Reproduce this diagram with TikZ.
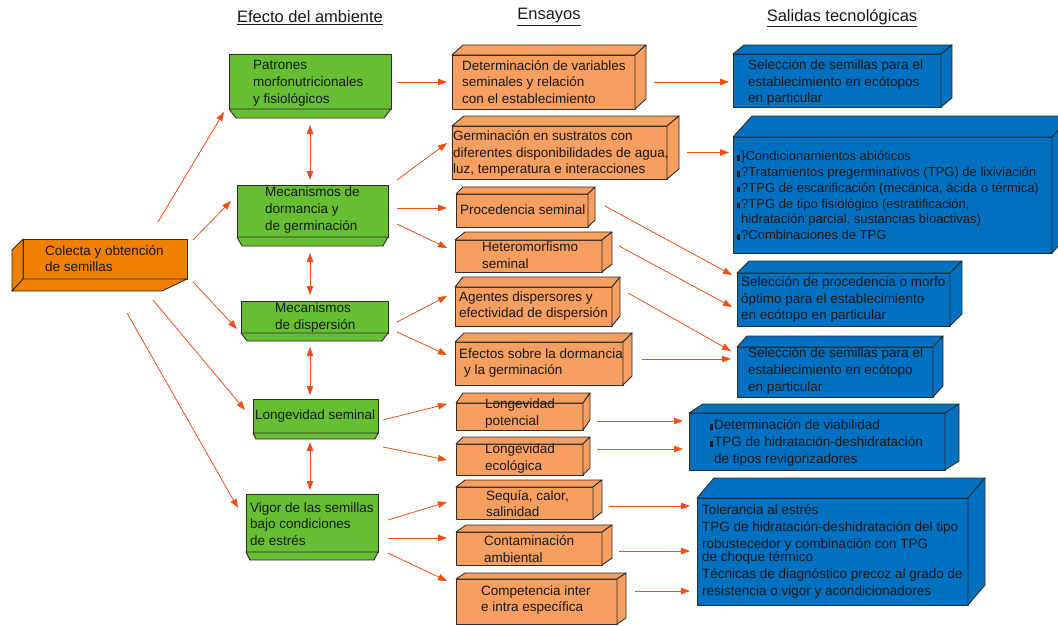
\documentclass[tikz,border=0pt]{standalone}
\usepackage{fontspec}
\setmainfont{Liberation Sans}
\usetikzlibrary{arrows.meta,calc}
\definecolor{grn}{RGB}{102,190,50}
\definecolor{orgdark}{RGB}{240,128,0}
\definecolor{orgl}{RGB}{247,158,97}
\definecolor{blu}{RGB}{0,112,192}
\definecolor{arrc}{RGB}{240,78,20}
\definecolor{edgec}{RGB}{45,45,45}
\definecolor{txtc}{RGB}{25,25,25}
\tikzset{
  arr/.style={draw=arrc, line width=0.8pt, -{Triangle[length=9pt,width=6.5pt]}},
  darr/.style={draw=arrc, line width=0.8pt, {Triangle[length=9pt,width=6.5pt]}-{Triangle[length=9pt,width=6.5pt]}},
  face/.style={draw=edgec, line width=0.9pt, line join=round},
  boxnode/.style={face, anchor=north west, inner sep=0pt, outer sep=0pt},
  lbl/.style={anchor=west, align=left, inner sep=0pt, font=\fontsize{13.5}{16.8}\selectfont, text=txtc},
  hdr/.style={inner sep=0pt, font=\fontsize{16.5}{19}\selectfont, text=txtc},
}
\newcommand\mk{\llap{\rule{2.5pt}{5.5pt}\hspace{1.5pt}}}
% 3D box with top and right faces: name, fill, x1, y1, x2, y2, dx, dy
\newcommand\cube[8]{%
  \node[boxnode, fill=#2, minimum width={(#5-#3)*1pt}, minimum height={(#6-#4)*1pt}] (#1) at (#3,#4) {};
  \filldraw[face, fill=#2] (#1.north west) -- ++(#7,-#8) -- ($(#1.north east)+(#7,-#8)$) -- (#1.north east) -- cycle;
  \filldraw[face, fill=#2] (#1.north east) -- ++(#7,-#8) -- ($(#1.south east)+(#7,-#8)$) -- (#1.south east) -- cycle;
}
% green box with bevelled base: name, x1, y1, x2, y2, h, inset
\newcommand\gbox[7]{%
  \node[boxnode, fill=grn, minimum width={(#4-#2)*1pt}, minimum height={(#5-#3)*1pt}] (#1) at (#2,#3) {};
  \filldraw[face, fill=grn] (#1.south west) -- (#1.south east) -- ($(#1.south east)+(-#7,#6)$) -- ($(#1.south west)+(#7,#6)$) -- cycle;
}
\begin{document}
\begin{tikzpicture}[x=1pt,y=-1pt]
\fill[white] (0,0) rectangle (1058,626);
\useasboundingbox (0,0) rectangle (1058,626);

% headers
\node[hdr] (h1) at (310,18) {\underline{Efecto del ambiente}};
\node[hdr] (h2) at (549,17) {\underline{Ensayos}};
\node[hdr] (h3) at (842,18) {\underline{Salidas tecnológicas}};

% left box
\node[boxnode, fill=orgdark, minimum width=164pt, minimum height=40pt] (c) at (23,239) {};
\filldraw[face, fill=orgdark] (c.north west) -- ++(-11,11) -- ($(c.south west)+(-11,12)$) -- (c.south west) -- cycle;
\filldraw[face, fill=orgdark] (c.south west) -- (c.south east) -- ($(c.south east)+(-25,12)$) -- ($(c.south west)+(-11,12)$) -- cycle;
\node[lbl] (ct) at (45,258.5) {Colecta y obtención\\de semillas};

% green boxes
\gbox{g1}{229}{54}{391}{109}{9}{7}
\node[lbl] (g1t) at (253,83) {Patrones\\morfonutricionales\\y fisiológicos};
\gbox{g2}{237}{185}{388}{237}{9}{5}
\node[lbl] (g2t) at (265,210) {Mecanismos de\\dormancia y\\de germinación};
\gbox{g3}{241}{301}{388}{333}{8}{6}
\node[lbl] (g3t) at (275,317.5) {Mecanismos\\de dispersión};
\gbox{g4}{253}{399}{378}{433}{6}{3}
\node[lbl] (g4t) at (255,416) {Longevidad seminal};
\gbox{g5}{246}{494}{378}{552}{8}{4}
\node[lbl] (g5t) at (250,524) {Vigor de las semillas\\bajo condiciones\\de estrés};

% Ensayos boxes
\cube{e1}{orgl}{452}{55}{635}{109}{11}{10}
\node[lbl] (e1t) at (462,82) {Determinación de variables\\seminales y relación\\con el establecimiento};
\cube{e2}{orgl}{452}{126}{667}{179}{12}{10}
\node[lbl] (e2t) at (453,153.5) {Germinación en sustratos con\\diferentes disponibilidades de agua,\\luz, temperatura e interacciones};
\cube{e3}{orgl}{456}{194}{588}{227}{7}{7}
\node[lbl] (e3t) at (460,210) {Procedencia seminal};
\cube{e4}{orgl}{455}{240}{602}{272}{10}{8}
\node[lbl] (e4t) at (482,255.5) {Heteromorfismo\\seminal};
\cube{e5}{orgl}{455}{287}{612}{326}{8}{10}
\node[lbl] (e5t) at (459,306) {Agentes dispersores y\\efectividad de dispersión};
\cube{e6}{orgl}{455}{342}{623}{385}{9}{9}
\node[lbl] (e6t) at (459,363) {Efectos sobre la dormancia\\\hspace{5pt}y la germinación};
\cube{e7}{orgl}{456}{403}{583}{430}{7}{10}
\node[lbl] (e7t) at (485,413.5) {Longevidad\\potencial};
\cube{e8}{orgl}{456}{444}{583}{475}{7}{7}
\node[lbl] (e8t) at (485,458.5) {Longevidad\\ecológica};
\cube{e9}{orgl}{456}{487}{593}{519}{9}{7}
\node[lbl] (e9t) at (486,503.5) {Sequía, calor,\\salinidad};
\cube{e10}{orgl}{456}{532}{602}{565}{10}{7}
\node[lbl] (e10t) at (484,549) {Contaminación\\ambiental};
\cube{e11}{orgl}{456}{579}{617}{624}{9}{6}
\node[lbl] (e11t) at (481,600) {Competencia inter\\e intra específica};

% Salidas boxes
\cube{b1}{blu}{733}{54}{941}{107}{11}{9}
\node[lbl] (b1t) at (748,82.5) {Selección de semillas para el\\establecimiento en ecótopos\\en particular};
\cube{b2}{blu}{733}{137}{1052}{253}{19}{21}
\node[lbl, font=\fontsize{13}{15.8}\selectfont] (b2t) at (741,195.5) {\mk\}Condicionamientos abióticos\\\mk?Tratamientos pregerminativos (TPG) de lixiviación\\\mk?TPG de escarificación (mecánica, ácida o térmica)\\\mk?TPG de tipo fisiológico (estratificación,\\hidratación parcial, sustancias bioactivas)\\\mk?Combinaciones de TPG};
\cube{b3}{blu}{737}{273}{950}{326}{12}{12}
\node[lbl] (b3t) at (741,299.5) {Selección de procedencia o morfo\\óptimo para el establecimiento\\en ecótopo en particular};
\cube{b4}{blu}{737}{347}{933}{397}{10}{11}
\node[lbl] (b4t) at (748,371) {Selección de semillas para el\\establecimiento en ecótopo\\en particular};
\cube{b5}{blu}{689}{413}{945}{470}{14}{9}
\node[lbl] (b5t) at (714,443) {\mk Determinación de viabilidad\\\mk TPG de hidratación-deshidratación\\de tipos revigorizadores};
\cube{b6}{blu}{697}{498}{968}{605}{17}{20}
\node[lbl] (b6t) at (702,551.5) {Tolerancia al estrés\\TPG de hidratación-deshidratación del tipo\\robustecedor y combinación con TPG\\[-3pt]de choque térmico\\Técnicas de diagnóstico precoz al grado de\\resistencia o vigor y acondicionadores};

% left box to green boxes
\draw[arr] ($(c.north east)+(-29,-17)$) -- ($(g1.south west)+(-5,3)$);
\draw[arr] ($(c.north east)+(6,1)$) -- ($(g2.west)+(-6,-10)$);
\draw[arr] ($(c.south east)+(6,3)$) -- ($(g3.west)+(-4,12)$);
\draw[arr] ($(c.south east)+(-34,21)$) -- ($(g4.west)+(-8,-6)$);
\draw[arr] ($(c.south east)+(-60,34)$) -- ($(g5.west)+(-8,-15)$);

% double arrows between green boxes
\draw[darr] ($(g1.south)+(0,16)$) -- ($(g1.south |- g2.north)+(0,-5)$);
\draw[darr] ($(g1.south |- g2.south)+(0,16)$) -- ($(g1.south |- g3.north)+(0,-6)$);
\draw[darr] ($(g1.south |- g3.south)+(0,14)$) -- ($(g1.south |- g4.north)+(0,-4)$);
\draw[darr] ($(g1.south |- g4.south)+(0,9)$) -- ($(g1.south |- g5.north)+(0,-4)$);

% green to Ensayos
\draw[arr] ($(g1.east)+(6,0.5)$) -- ($(e1.west)+(-5,0)$);
\draw[arr] ($(g2.east)+(9,-31)$) -- ($(e2.west)+(-5,-9.5)$);
\draw[arr] ($(g2.east)+(9,-3)$) -- ($(e3.west)+(-9,-2.5)$);
\draw[arr] ($(g2.east)+(9,13)$) -- ($(e4.west)+(-8,-8)$);
\draw[arr] ($(g3.east)+(9,5)$) -- ($(e5.west)+(-8,-10.5)$);
\draw[arr] ($(g3.east)+(9,15)$) -- ($(e6.west)+(-8,-8.5)$);
\draw[arr] ($(g4.east)+(5,4)$) -- ($(e7.west)+(-9,-12.5)$);
\draw[arr] ($(g4.east)+(5,31)$) -- ($(e8.west)+(-9,0.5)$);
\draw[arr] ($(g5.east)+(10,-3)$) -- ($(e9.west)+(-9,-1)$);
\draw[arr] ($(g5.east)+(10,15)$) -- ($(e10.west)+(-9,-10.5)$);
\draw[arr] ($(g5.east)+(10,30)$) -- ($(e11.west)+(-9,-20.5)$);

% Ensayos to Salidas
\draw[arr] ($(e1.east)+(19,0)$) -- ($(e1.east -| b1.west)+(-4,0)$);
\draw[arr] ($(e2.east)+(20,0)$) -- ($(e2.east -| b2.west)+(-4,0)$);
\draw[arr] ($(e3.east)+(17,-4.5)$) -- ($(b3.west)+(-5,-24.5)$);
\draw[arr] ($(e4.east)+(17,-10)$) -- ($(b3.west)+(-5,7.5)$);
\draw[arr] ($(e5.east)+(16,-13.5)$) -- ($(b4.west)+(-6,-21)$);
\draw[arr] ($(e6.east)+(19,-4.5)$) -- ($(b4.west)+(-6,-13)$);
\draw[arr] ($(e7.east)+(14,4.5)$) -- ($(b5.west)+(-6,-20.5)$);
\draw[arr] ($(e8.east)+(14,-10.5)$) -- ($(b5.west)+(-6,7.5)$);
\draw[arr] ($(e9.east)+(16,3)$) -- ($(b6.west)+(-7,-45.5)$);
\draw[arr] ($(e10.east)+(17,2.5)$) -- ($(b6.west)+(-7,-0.5)$);
\draw[arr] ($(e11.east)+(18,-10.5)$) -- ($(b6.west)+(-7,39.5)$);
\end{tikzpicture}
\end{document}
